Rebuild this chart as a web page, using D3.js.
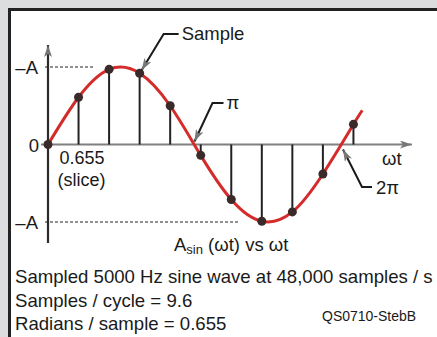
<!DOCTYPE html>
<html>
<head>
<meta charset="utf-8">
<script src="https://cdn.jsdelivr.net/npm/d3@7"></script>
<style>
  body { margin: 0; background: #dcdddf; }
  svg { display: block; font-family: "Liberation Sans", Arial, sans-serif; }
</style>
</head>
<body>
<svg id="canvas" width="437" height="337"></svg>
<script>
// samples of one 5000 Hz cycle, phase step 0.655 rad
let samplePhase = [0, 0.655, 1.31, 1.965, 2.62, 3.275, 3.93, 4.585, 5.24, 5.895, 6.55]
let sampleValue = [0, 0.61, 0.97, 0.92, 0.50, -0.14, -0.71, -0.99, -0.87, -0.38, 0.26]
// where the red trace stops past the last sample
let curveEnd = [6.74, 0.44]
let infoLines = ["Sampled 5000 Hz sine wave at 48,000 samples / s", "Samples / cycle = 9.6", "Radians / sample = 0.655"]

let canvas = d3.select("#canvas")

let x = d3.scaleLinear().domain([0, 2 * Math.PI]).range([48, 341])
let y = d3.scaleLinear().domain([-1, 1]).range([222, 67])

// white panel with heavy top / left edge
canvas.append("rect").attr("x", 9.5).attr("y", 9.5).attr("width", 440).attr("height", 340)
    .attr("fill", "#fff").attr("stroke", "#222").attr("stroke-width", 3)

let defs = canvas.append("defs")
defs.append("marker").attr("id", "ah").attr("viewBox", "0 0 12 8").attr("refX", 12).attr("refY", 4)
    .attr("markerWidth", 12).attr("markerHeight", 8).attr("markerUnits", "userSpaceOnUse").attr("orient", "auto")
    .append("path").attr("d", "M0,0 L12,4 L0,8 L3,4 Z").attr("fill", "#777")

// axes
canvas.append("line").attr("x1", x(0) - 7).attr("x2", 412).attr("y1", y(0)).attr("y2", y(0))
    .attr("stroke", "#808080").attr("stroke-width", 2).attr("marker-end", "url(#ah)")
canvas.append("line").attr("x1", x(0)).attr("x2", x(0)).attr("y1", 243).attr("y2", 45)
    .attr("stroke", "#2a2a2a").attr("stroke-width", 2.2).attr("marker-end", "url(#ah)")

// dashed amplitude guides
canvas.append("line").attr("x1", x(0) - 3).attr("x2", 95).attr("y1", y(1)).attr("y2", y(1))
    .attr("stroke", "#222").attr("stroke-width", 1).attr("stroke-dasharray", "3,2")
canvas.append("line").attr("x1", x(0) - 3).attr("x2", 238).attr("y1", y(-1)).attr("y2", y(-1))
    .attr("stroke", "#222").attr("stroke-width", 1).attr("stroke-dasharray", "3,2")

// stems
canvas.selectAll(".stem").data(samplePhase).enter().append("line")
    .attr("class", "stem")
    .attr("x1", (d) => x(d)).attr("x2", (d) => x(d))
    .attr("y1", y(0)).attr("y2", (d, i) => y(sampleValue[i]))
    .attr("stroke", "#222").attr("stroke-width", 2)

// red trace through the samples
let pts = samplePhase.map((d, i) => [d, sampleValue[i]])
pts.push(curveEnd)
let line = d3.line().x(d => x(d[0])).y(d => y(d[1])).curve(d3.curveNatural)
canvas.append("path").attr("d", line(pts)).attr("fill", "none")
    .attr("stroke", "#d42b2b").attr("stroke-width", 3)

canvas.selectAll(".dot").data(samplePhase).enter().append("circle")
    .attr("class", "dot")
    .attr("cx", d => x(d)).attr("cy", (d, i) => y(sampleValue[i]))
    .attr("r", 4.5).attr("fill", "#3a2a2a")

// leaders
let leader = (tx, ty, kx, ky, ex) => {
    canvas.append("path").attr("d", "M" + ex + "," + ky + " L" + kx + "," + ky + " L" + tx + "," + ty)
        .attr("fill", "none").attr("stroke", "#1a1a1a").attr("stroke-width", 2).attr("marker-end", "url(#ah)")
}
leader(x(samplePhase[3]) + 2, y(sampleValue[3]) - 3, x(samplePhase[3]) + 24, 34, x(samplePhase[3]) + 39)
leader(x(Math.PI), y(0) - 3, x(Math.PI) + 18, 103, x(Math.PI) + 29)
leader(x(2 * Math.PI) + 2, y(0) + 5, x(2 * Math.PI) + 21, 187, x(2 * Math.PI) + 31)

let txt = (s, tx, ty, size, anchor) => canvas.append("text").attr("x", tx).attr("y", ty)
    .attr("font-size", size).attr("fill", "#1a1a1a").attr("text-anchor", anchor || "start").text(s)

txt("Sample", x(samplePhase[3]) + 42, 40, 18.5)
txt("\u03c0", x(Math.PI) + 32, 109, 18.5)
txt("2\u03c0", x(2 * Math.PI) + 35, 194, 18.5)
txt("\u03c9t", 382, 165, 18.5)
txt("0", x(0) - 9, y(0) + 7, 18.5, "end")
txt("\u2013A", x(0) - 10, y(1) + 7, 18.5, "end")
txt("\u2013A", x(0) - 10, y(-1) + 7, 18.5, "end")
txt("0.655", x(samplePhase[1]) - 19, y(0) + 19, 18)
txt("(slice)", x(samplePhase[1]) - 21, y(0) + 41, 18)

let title = canvas.append("text").attr("x", 174).attr("y", 251).attr("font-size", 18.5).attr("fill", "#1a1a1a")
title.append("tspan").text("A")
title.append("tspan").attr("font-size", 13).attr("dy", 3).text("sin")
title.append("tspan").attr("dy", -3).text(" (\u03c9t) vs \u03c9t")

infoLines.forEach((s, i) => txt(s, 15, 283 + i * 23.5, 18.6))
txt("QS0710-StebB", 322, 321, 14)
</script>
</body>
</html>
